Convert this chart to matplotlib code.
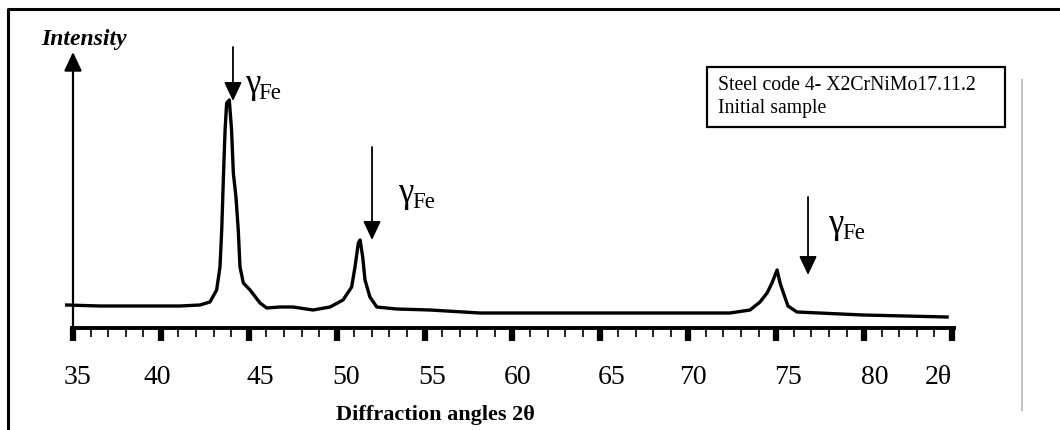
import numpy as np
import matplotlib
matplotlib.use('Agg')
import matplotlib.pyplot as plt
from matplotlib.patches import Rectangle
from matplotlib.lines import Line2D

plt.rcParams['font.family'] = ['Liberation Serif', 'DejaVu Serif']

# XRD scan (2theta in degrees, intensity in arb. units)
two_theta = [34.64, 36.54, 39.38, 41.09, 42.22, 42.79, 43.17, 43.36, 43.46, 43.55,
             43.65, 43.74, 43.89, 44.02, 44.12, 44.27, 44.40, 44.50, 44.69, 45.07,
             45.64, 46.02, 46.77, 47.51, 48.65, 49.62, 50.36, 50.85, 51.04, 51.23,
             51.33, 51.48, 51.61, 51.89, 52.28, 53.41, 55.31, 58.15, 61.00, 66.68,
             70.49, 72.37, 73.51, 74.08, 74.48, 74.76, 75.05, 75.22, 75.45, 75.67,
             76.18, 79.94, 84.72]
intensity = [23, 22, 22, 22, 23, 26, 38, 61, 98, 148,
             198, 225, 228, 198, 155, 131, 98, 61, 45, 38,
             25, 20, 21, 21, 18, 21, 28, 41, 61, 85,
             88, 71, 48, 31, 21, 19, 18, 15, 15, 15,
             15, 15, 18, 26, 35, 45, 58, 45, 33, 22,
             16, 13, 11]

# gamma-Fe markers: arrow position, arrow top and tip
marker_angle = [44.10, 52.01, 76.81]
marker_top = [281, 181, 131]
marker_tip = [227, 88, 53]

# tick labels as typed under the axis
tick_labels = ['35', '40', '45', '50', '55', '60', '65', '70', '75', '80', '2θ']
tick_label_pos = [35.23, 39.78, 45.64, 50.53, 55.42, 60.31, 65.66, 70.27, 75.67, 80.62, 84.20]

major_ticks = np.arange(35, 86, 5)
minor_ticks = np.arange(35, 86, 1)

W, H = 1060, 430
fig = plt.figure(figsize=(W / 100, H / 100), dpi=100)
ax = fig.add_axes([0, 0, 1, 1])
px_per_deg = 17.58   # 35 deg sits at x = 73 px, zero intensity at y = 328 px
ax.set_xlim(35 - 73 / px_per_deg, 35 + (W - 73) / px_per_deg)
ax.set_ylim(-(H - 328), 328)
ax.axis('off')


def fx(px):
    return px / W


def fy(py):
    return 1 - py / H


# outer frame and the grey page line
fig.add_artist(Line2D([fx(8), fx(8), 1], [0, fy(9), fy(9)], color='black', lw=2.2))
fig.add_artist(Line2D([fx(1022), fx(1022)], [fy(80), fy(410)], color='#c4c4c4', lw=1.5))

# scan
ax.plot(two_theta, intensity, color='black', lw=2.4, solid_joinstyle='round')

# printed 2theta scale
ax.hlines(0, 34.85, 85.2, color='black', lw=2.8)
ax.vlines(minor_ticks, -9, 0, color='black', lw=1.2)
ax.vlines(major_ticks, -13, 0, color='black', lw=4.5)
for pos, lab in zip(tick_label_pos, tick_labels):
    ax.text(pos, -50, lab, fontsize=20, ha='center', va='center')
ax.text(55.6, -87, 'Diffraction angles 2θ', fontsize=16, fontweight='bold',
        ha='center', va='center')

# intensity arrow
arrow_style = '-|>,head_length=11.5,head_width=5.4'
ax.annotate('', xy=(35.0, 276), xytext=(35.0, -2),
            arrowprops=dict(arrowstyle=arrow_style, mutation_scale=1, lw=1.6,
                            color='black', shrinkA=0, shrinkB=0))
fig.text(fx(84), fy(39), 'Intensity', fontsize=17, fontweight='bold',
         fontstyle='italic', ha='center', va='center')

# gamma-Fe peak markers
label_offset = [(0.66, 8), (1.5, 38), (1.14, 42)]
for ang, top, tip, (dx, dy) in zip(marker_angle, marker_top, marker_tip, label_offset):
    ax.annotate('', xy=(ang, tip), xytext=(ang, top),
                arrowprops=dict(arrowstyle=arrow_style, mutation_scale=1, lw=1.3,
                                color='black', shrinkA=0, shrinkB=0))
    ax.annotate('γ', xy=(ang + dx, tip + dy), fontsize=25, ha='left', va='baseline')
    ax.annotate('Fe', xy=(ang + dx, tip + dy), xytext=(10, -4.5),
                textcoords='offset points', fontsize=16.5, ha='left', va='baseline')

# sample box
fig.add_artist(Rectangle((fx(707), fy(127)), fx(1005) - fx(707), fy(67) - fy(127),
                         fill=False, edgecolor='black', lw=1.6))
fig.text(fx(718), fy(86), 'Steel code 4- X2CrNiMo17.11.2', fontsize=14.2,
         ha='left', va='center')
fig.text(fx(718), fy(109), 'Initial sample', fontsize=14.2, ha='left', va='center')

fig.savefig('out.png', dpi=100)
